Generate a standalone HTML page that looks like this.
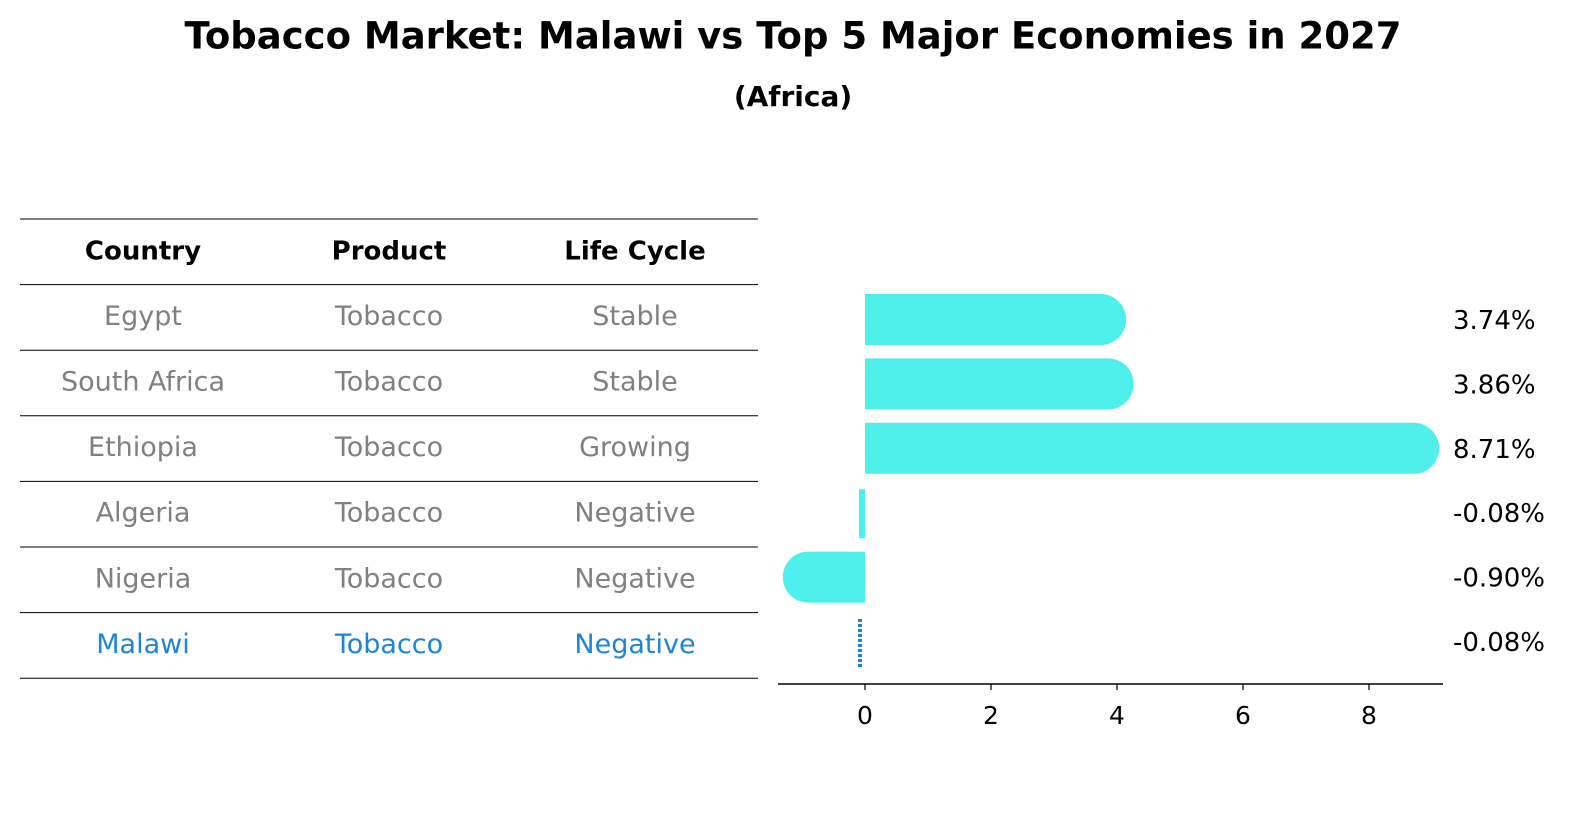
<!DOCTYPE html>
<html><head><meta charset="utf-8"><style>
body{margin:0;background:#fff;font-family:"Liberation Sans","DejaVu Sans",sans-serif;}
</style></head><body>
<svg width="1596" height="823" xmlns="http://www.w3.org/2000/svg" font-family="DejaVu Sans, Liberation Sans, sans-serif">
<text x="793" y="38" text-anchor="middle" dominant-baseline="middle" font-size="37" font-weight="bold">Tobacco Market: Malawi vs Top 5 Major Economies in 2027</text>
<text x="793" y="98" text-anchor="middle" dominant-baseline="middle" font-size="28" font-weight="bold">(Africa)</text>
<g id="table"></g>
<g id="bars"></g>
</svg>
<script>
const countries=["Egypt","South Africa","Ethiopia","Algeria","Nigeria","Malawi"];
const products=["Tobacco","Tobacco","Tobacco","Tobacco","Tobacco","Tobacco"];
const lifecycles=["Stable","Stable","Growing","Negative","Negative","Negative"];
const values=[3.74,3.86,8.71,-0.08,-0.90,-0.08];
const xTicks=[0,2,4,6,8];
const NS="http://www.w3.org/2000/svg";
function mk(t,a,p){const e=document.createElementNS(NS,t);for(const k in a)e.setAttribute(k,a[k]);p.appendChild(e);return e;}
const tb=document.getElementById('table');
const rowTop=219,rowH=65.6;
function hline(y){const l=mk('line',{x1:20,x2:758,y1:y,y2:y,stroke:'#000','stroke-width':1},tb);

}
hline(rowTop);
const colX=[143,389,635];
["Country","Product","Life Cycle"].forEach((h,i)=>{const t=mk('text',{x:colX[i],y:rowTop+rowH/2,'text-anchor':'middle','dominant-baseline':'middle','font-size':26,'font-weight':'bold'},tb);t.textContent=h;

});
hline(rowTop+rowH);
countries.forEach((c,r)=>{const y=rowTop+rowH*(r+1)+rowH/2;const col=r===countries.length-1?'#1f84d8':'#808080';
[c,products[r],lifecycles[r]].forEach((v,i)=>{const t=mk('text',{x:colX[i],y:y,'text-anchor':'middle','dominant-baseline':'middle','font-size':27,fill:col},tb);t.textContent=v;

});
hline(rowTop+rowH*(r+2));});
const g=document.getElementById('bars');
const x0=865,ppu=63;function X(v){return x0+v*ppu;}
const bTop=294,bStep=64.4,bH=51,r=25.5;
values.forEach((v,i)=>{const y=bTop+i*bStep;let el;
if(i===values.length-1){el=mk('line',{x1:X(v),x2:X(v),y1:y+3,y2:y+bH,stroke:'#1f7fd8','stroke-width':4,'stroke-dasharray':'3 2'},g);}
else if(Math.abs(v)<0.2){el=mk('rect',{x:Math.min(X(v),x0)-1,y:y+2,width:Math.abs(X(v)-x0)+1,height:bH-2,fill:'#4eeeea'},g);}
else{const xv=X(v),s=v>=0?1:-1;
const d=`M${x0},${y} L${xv},${y} A${r},${r} 0 0 ${s>0?1:0} ${xv},${y+bH} L${x0},${y+bH} Z`;
el=mk('path',{d:d,fill:'#4eeeea'},g);}


const t=mk('text',{x:1453,y:y+bH/2+2,'dominant-baseline':'middle','font-size':26},g);t.textContent=v.toFixed(2)+'%';

});
const ax=mk('line',{x1:778,x2:1443,y1:684,y2:684,stroke:'#000','stroke-width':1.5},g);


xTicks.forEach(v=>{const l=mk('line',{x1:X(v),x2:X(v),y1:684,y2:690,stroke:'#000','stroke-width':1.2},g);


const t=mk('text',{x:X(v),y:717,'text-anchor':'middle','dominant-baseline':'middle','font-size':25},g);t.textContent=v;

});
</script>
</body></html>
